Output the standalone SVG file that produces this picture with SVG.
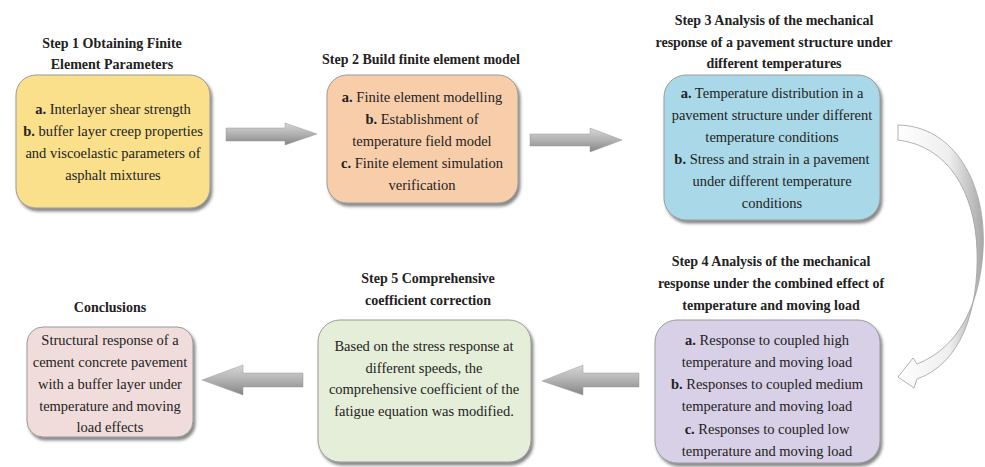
<svg xmlns="http://www.w3.org/2000/svg" width="985" height="467" viewBox="0 0 985 467">
<defs>
<filter id="sh" x="-10%" y="-10%" width="125%" height="130%">
<feDropShadow dx="2" dy="3" stdDeviation="1.8" flood-color="#444" flood-opacity="0.65"/>
</filter>
<linearGradient id="ag" x1="0" y1="0" x2="0" y2="1">
<stop offset="0" stop-color="#d6d6d6"/>
<stop offset="0.5" stop-color="#b2b2b2"/>
<stop offset="1" stop-color="#858585"/>
</linearGradient>
<linearGradient id="cg" x1="0" y1="0" x2="1" y2="0">
<stop offset="0" stop-color="#ffffff"/>
<stop offset="0.6" stop-color="#eeeeee"/>
<stop offset="1" stop-color="#a8a8a8"/>
</linearGradient>
</defs>
<g font-size="14.5" fill="#222" text-anchor="middle">
<g id="step1">
<text font-family="Liberation Serif" font-size="14" font-weight="bold" x="112" y="48">Step 1 Obtaining Finite</text>
<text font-family="Liberation Serif" font-size="14" font-weight="bold" x="112" y="69">Element Parameters</text>
<rect filter="url(#sh)" stroke="#9a9a9a" x="16" y="75" width="194" height="133" rx="20" fill="#fbe08c"/>
<text font-family="Liberation Serif" x="113" y="114"><tspan font-weight="bold">a.</tspan> Interlayer shear strength</text>
<text font-family="Liberation Serif" x="113" y="136"><tspan font-weight="bold">b.</tspan> buffer layer creep properties</text>
<text font-family="Liberation Serif" x="113" y="158">and viscoelastic parameters of</text>
<text font-family="Liberation Serif" x="113" y="180">asphalt mixtures</text>
</g>

<g id="step2">
<text font-family="Liberation Serif" font-size="14" font-weight="bold" x="421" y="64">Step 2 Build finite element model</text>
<rect filter="url(#sh)" stroke="#9a9a9a" x="327" y="75" width="191" height="128" rx="20" fill="#f8cdaa"/>
<text font-family="Liberation Serif" x="422" y="102"><tspan font-weight="bold">a.</tspan> Finite element modelling</text>
<text font-family="Liberation Serif" x="422" y="124"><tspan font-weight="bold">b.</tspan> Establishment of</text>
<text font-family="Liberation Serif" x="422" y="146">temperature field model</text>
<text font-family="Liberation Serif" x="422" y="168"><tspan font-weight="bold">c.</tspan> Finite element simulation</text>
<text font-family="Liberation Serif" x="422" y="190">verification</text>
</g>

<g id="step3">
<text font-family="Liberation Serif" font-size="14" font-weight="bold" x="774" y="25">Step 3 Analysis  of the mechanical</text>
<text font-family="Liberation Serif" font-size="14" font-weight="bold" x="774" y="47">response of a pavement structure under</text>
<text font-family="Liberation Serif" font-size="14" font-weight="bold" x="774" y="68">different temperatures</text>
<rect filter="url(#sh)" stroke="#9a9a9a" x="664" y="75" width="216" height="145" rx="22" fill="#a9d9e8"/>
<text font-family="Liberation Serif" x="772" y="98"><tspan font-weight="bold">a.</tspan> Temperature distribution in a</text>
<text font-family="Liberation Serif" x="772" y="120">pavement structure under different</text>
<text font-family="Liberation Serif" x="772" y="142">temperature conditions</text>
<text font-family="Liberation Serif" x="772" y="164"><tspan font-weight="bold">b.</tspan> Stress and strain in a pavement</text>
<text font-family="Liberation Serif" x="772" y="186">under different temperature</text>
<text font-family="Liberation Serif" x="772" y="208">conditions</text>
</g>

<g id="step4">
<text font-family="Liberation Serif" font-size="14" font-weight="bold" x="771" y="266">Step 4 Analysis of the mechanical</text>
<text font-family="Liberation Serif" font-size="14" font-weight="bold" x="771" y="288">response under the combined effect of</text>
<text font-family="Liberation Serif" font-size="14" font-weight="bold" x="771" y="310">temperature and moving load</text>
<rect filter="url(#sh)" stroke="#9a9a9a" x="655" y="320" width="225" height="143" rx="22" fill="#d8d0e6"/>
<text font-family="Liberation Serif" x="767" y="345"><tspan font-weight="bold">a.</tspan> Response to coupled high</text>
<text font-family="Liberation Serif" x="767" y="367">temperature and moving load</text>
<text font-family="Liberation Serif" x="767" y="389"><tspan font-weight="bold">b.</tspan> Responses to coupled medium</text>
<text font-family="Liberation Serif" x="767" y="411">temperature and moving load</text>
<text font-family="Liberation Serif" x="767" y="434"><tspan font-weight="bold">c.</tspan> Responses to coupled low</text>
<text font-family="Liberation Serif" x="767" y="456">temperature and moving load</text>
</g>

<g id="step5">
<text font-family="Liberation Serif" font-size="14" font-weight="bold" x="428" y="283">Step 5 Comprehensive</text>
<text font-family="Liberation Serif" font-size="14" font-weight="bold" x="428" y="305">coefficient correction</text>
<rect filter="url(#sh)" stroke="#9a9a9a" x="318" y="320" width="213" height="142" rx="22" fill="#e5eed8"/>
<text font-family="Liberation Serif" x="424" y="351">Based on the stress response at</text>
<text font-family="Liberation Serif" x="424" y="373">different speeds, the</text>
<text font-family="Liberation Serif" x="424" y="394">comprehensive coefficient of the</text>
<text font-family="Liberation Serif" x="424" y="416">fatigue equation was modified.</text>
</g>

<g id="conclusions">
<text font-family="Liberation Serif" font-size="14" font-weight="bold" x="110" y="312">Conclusions</text>
<rect filter="url(#sh)" stroke="#9a9a9a" x="27" y="327" width="166" height="110" rx="16" fill="#f1dcdc"/>
<text font-family="Liberation Serif" x="110" y="345">Structural response of a</text>
<text font-family="Liberation Serif" x="110" y="367">cement concrete pavement</text>
<text font-family="Liberation Serif" x="110" y="389">with a buffer layer under</text>
<text font-family="Liberation Serif" x="110" y="411">temperature and moving</text>
<text font-family="Liberation Serif" x="110" y="432">load effects</text>
</g>
</g>
<g id="connectors" fill="url(#ag)" stroke="#9a9a9a" stroke-width="0.5">
<path d="M226,128 L285,128 L285,123 L317,134 L285,145 L285,141 L226,141 Z"/>
<path d="M530,134 L590,134 L590,128 L622,140 L590,152 L590,146 L530,146 Z"/>
<path d="M639,373 L583,373 L583,365 L542,381 L583,395 L583,387 L639,387 Z"/>
<path d="M303,373 L243,373 L243,365 L202,380 L243,395 L243,387 L303,387 Z"/>
<path d="M898,125 C955,126 987,185 983,250 C980,305 958,348 917,364 L913,358 L898,377 L914,388 L917,379 C960,364 979,312 977,250 C975,192 948,146 898,140 Z" fill="url(#cg)" stroke="#a0a0a0" stroke-width="0.8"/>
</g>
</svg>
